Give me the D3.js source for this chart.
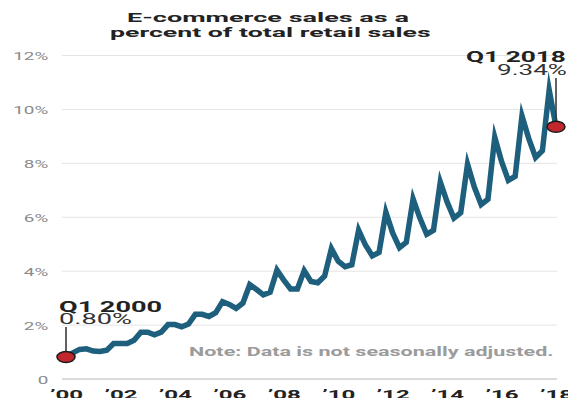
<!DOCTYPE html>
<html>
<head>
<meta charset="utf-8">
<script src="https://cdn.jsdelivr.net/npm/d3@7"></script>
<style>
  html, body { margin: 0; padding: 0; background: #fff; overflow: hidden; }
</style>
</head>
<body>
<svg id="chart" width="568" height="398"></svg>
<script>
// E-commerce share of total retail sales, quarterly, not seasonally adjusted (%)
const firstYear = 2000;
const share = [
  0.80, 0.95, 1.08, 1.10,   // 2000
  1.02, 1.00, 1.05, 1.30,   // 2001
  1.30, 1.30, 1.42, 1.72,   // 2002
  1.72, 1.62, 1.72, 2.00,   // 2003
  2.00, 1.92, 2.02, 2.38,   // 2004
  2.38, 2.30, 2.44, 2.85,   // 2005
  2.75, 2.60, 2.80, 3.48,   // 2006
  3.30, 3.10, 3.20, 4.02,   // 2007
  3.65, 3.32, 3.32, 4.00,   // 2008
  3.60, 3.55, 3.80, 4.82,   // 2009
  4.35, 4.15, 4.22, 5.50,   // 2010
  4.95, 4.55, 4.68, 6.17,   // 2011
  5.40, 4.85, 5.05, 6.66,   // 2012
  5.95, 5.35, 5.50, 7.29,   // 2013
  6.55, 5.95, 6.15, 7.95,   // 2014
  7.10, 6.45, 6.65, 8.95,   // 2015
  8.05, 7.35, 7.50, 9.74,   // 2016
  8.90, 8.20, 8.45, 10.70,  // 2017
  9.34                      // 2018
];
const yTicks = [0, 2, 4, 6, 8, 10, 12];
const xTicks = [2000, 2002, 2004, 2006, 2008, 2010, 2012, 2014, 2016, 2018];
const titleLines = ["E-commerce sales as a", "percent of total retail sales"];
const noteText = "Note: Data is not seasonally adjusted.";

const FONT = "Roboto, 'Noto Sans', 'Liberation Sans', sans-serif";
const svg = d3.select("#chart");

const x = d3.scaleLinear().domain([2000, 2018]).range([66, 556]);
const y = d3.scaleLinear().domain([0, 12]).range([378.5, 55]);

const points = share.map((v, i) => ({
  t: firstYear + i / 4,
  v,
  q: (i % 4) + 1,
  yr: firstYear + Math.floor(i / 4)
}));

// Text drawn wide: glyphs are stretched horizontally to a target width or factor
function wideText(parent, str, o) {
  const t = parent.append("text")
    .text(str)
    .attr("font-family", FONT)
    .attr("font-size", o.size)
    .attr("font-weight", o.weight || 400)
    .attr("fill", o.fill);
  const natural = t.node().getComputedTextLength();
  const k = o.width ? o.width / natural : o.k;
  const w = natural * k;
  const left = o.anchor === "end" ? o.x - w : o.anchor === "middle" ? o.x - w / 2 : o.x;
  t.attr("transform", `translate(${left},${o.y}) scale(${k},1)`);
  return t;
}

// ---- y axis with gridlines ----
const yPad = 13.7, yK = 1.8;
const yAxis = svg.append("g")
  .attr("transform", "translate(62,0)")
  .call(d3.axisLeft(y)
    .tickValues(yTicks)
    .tickSize(-495)
    .tickPadding(yPad)
    .tickFormat(d => d === 0 ? "0" : d + "%"));
yAxis.select(".domain").remove();
yAxis.selectAll(".tick line")
  .attr("stroke", d => d === 0 ? "#cfcfcf" : "#e4e4e4")
  .attr("stroke-width", d => d === 0 ? 1.6 : 1);
yAxis.selectAll(".tick text")
  .attr("font-family", FONT)
  .attr("font-size", 10.5)
  .attr("fill", "#8a8a8a")
  .attr("x", -yPad / yK)
  .attr("dy", "0.46em")
  .attr("transform", `scale(${yK},1)`);

// ---- x axis labels ----
const xK = 1.85;
const xAxis = svg.append("g")
  .attr("transform", `translate(0,${y(0)})`)
  .call(d3.axisBottom(x)
    .tickValues(xTicks)
    .tickSize(0)
    .tickPadding(11.6)
    .tickFormat(d => "\u2019" + String(d).slice(2)));
xAxis.select(".domain").remove();
xAxis.selectAll(".tick text")
  .attr("font-family", FONT)
  .attr("font-size", 13)
  .attr("font-weight", 700)
  .attr("fill", "#222")
  .attr("transform", `scale(${xK},1)`);

// ---- title ----
wideText(svg, titleLines[0], { x: 268, y: 22, anchor: "middle", size: 13.5, weight: 700, fill: "#222", width: 282 });
wideText(svg, titleLines[1], { x: 270.5, y: 36.5, anchor: "middle", size: 13.5, weight: 700, fill: "#222", width: 321 });

// ---- note ----
wideText(svg, noteText, { x: 554, y: 356, anchor: "end", size: 13, weight: 700, fill: "#9b9b9b", width: 365 });

// ---- series line ----
const line = d3.line().x(d => x(d.t)).y(d => y(d.v));
svg.append("path")
  .datum(points)
  .attr("d", line)
  .attr("fill", "none")
  .attr("stroke", "#1d5f7c")
  .attr("stroke-width", 5.5)
  .attr("stroke-linejoin", "miter")
  .attr("stroke-miterlimit", 10);

// ---- end-point annotations ----
const fmtPct = v => d3.format(".2f")(v) + "%";
const qLabel = p => `Q${p.q} ${p.yr}`;
const first = points[0];
const last = points[points.length - 1];
const dotRx = 9, dotRy = 5.5;

function leader(p, top) {
  svg.append("line")
    .attr("x1", x(p.t)).attr("x2", x(p.t))
    .attr("y1", top).attr("y2", y(p.v) - dotRy)
    .attr("stroke", "#3a3a3a")
    .attr("stroke-width", 1.6);
}
leader(first, 327);
leader(last, 78);

svg.selectAll("ellipse.endpoint")
  .data([first, last])
  .join("ellipse")
  .attr("class", "endpoint")
  .attr("cx", d => x(d.t))
  .attr("cy", d => y(d.v))
  .attr("rx", dotRx)
  .attr("ry", dotRy)
  .attr("fill", "#c1272d")
  .attr("stroke", "#1a1a1a")
  .attr("stroke-width", 1.5);

wideText(svg, qLabel(first), { x: x(first.t) - 7, y: 311.7, anchor: "start", size: 15.5, weight: 700, fill: "#222", width: 103 });
wideText(svg, fmtPct(first.v), { x: x(first.t) - 7, y: 323.5, anchor: "start", size: 14, weight: 400, fill: "#333", width: 73 });
wideText(svg, qLabel(last), { x: x(last.t) + 10, y: 61.7, anchor: "end", size: 15.5, weight: 700, fill: "#222", width: 100 });
wideText(svg, fmtPct(last.v), { x: x(last.t) + 11, y: 75, anchor: "end", size: 14, weight: 400, fill: "#333", width: 70 });
</script>
</body>
</html>
